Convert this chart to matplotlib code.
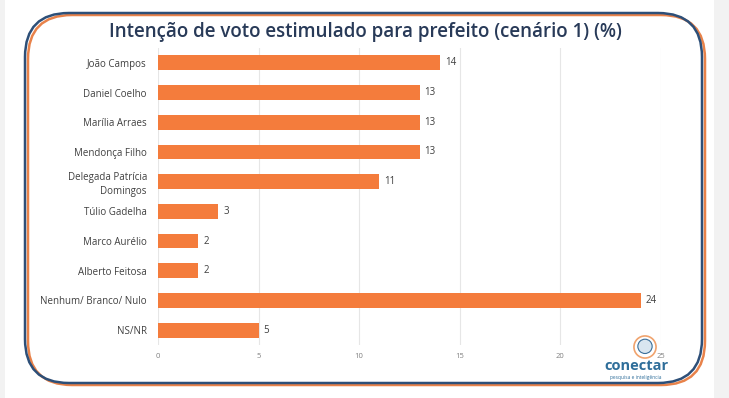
import matplotlib
matplotlib.use("Agg")
import matplotlib.pyplot as plt
from matplotlib.patches import FancyBboxPatch, Rectangle, Circle

candidates = [
    "João Campos",
    "Daniel Coelho",
    "Marília Arraes",
    "Mendonça Filho",
    "Delegada Patrícia\nDomingos",
    "Túlio Gadelha",
    "Marco Aurélio",
    "Alberto Feitosa",
    "Nenhum/ Branco/ Nulo",
    "NS/NR",
]
votes = [14, 13, 13, 13, 11, 3, 2, 2, 24, 5]
xticks = [0, 5, 10, 15, 20, 25]

BAR = "#f47c3c"
NAVY = "#283a58"
W, H = 729, 398

plt.rcParams["font.family"] = ["Open Sans", "DejaVu Sans"]

fig = plt.figure(figsize=(W / 100, H / 100), dpi=100)
fig.patch.set_facecolor("white")

# gray page edges
fig.add_artist(Rectangle((0, 0), 5 / W, 1, transform=fig.transFigure,
                         facecolor="#f2f2f2", edgecolor="none", zorder=0))
fig.add_artist(Rectangle((714 / W, 0), 15 / W, 1, transform=fig.transFigure,
                         facecolor="#f2f2f2", edgecolor="none", zorder=0))


def frame(x0, y0, x1, y1, color):
    # pixel coords, y from top
    r = 44
    p = FancyBboxPatch((x0 + r, H - y1 + r), (x1 - x0) - 2 * r, (y1 - y0) - 2 * r,
                       boxstyle=f"round,pad={r}", transform=None,
                       facecolor="none", edgecolor=color, linewidth=1.8)
    fig.add_artist(p)


frame(28, 15, 705, 385, "#e8824a")
frame(25, 13, 702, 383, "#2d4f78")

ax = fig.add_axes([158 / W, 1 - 345 / H, (661 - 158) / W, (345 - 48) / H])
y = list(range(len(candidates)))
bars = ax.barh(y, votes, height=0.5, color=BAR, zorder=3)
for b, v in zip(bars, votes):
    ax.text(b.get_width() + 0.25, b.get_y() + b.get_height() / 2, str(v),
            va="center", ha="left", fontsize=7, color="#404040")

ax.set_ylim(len(candidates) - 0.5, -0.5)
ax.set_xlim(0, 25)
ax.set_xticks(xticks)
ax.set_xticklabels([str(t) for t in xticks], fontsize=5.5, color="#808080")
ax.set_yticks(y)
ax.set_yticklabels(candidates, fontsize=7, color="#404040", linespacing=1.3)
ax.tick_params(axis="both", length=0)
ax.tick_params(axis="y", pad=8)
ax.tick_params(axis="x", pad=6)
ax.grid(axis="x", color="#e6e6e6", linewidth=0.8, zorder=0)
for s in ax.spines.values():
    s.set_visible(False)
ax.set_facecolor("none")

fig.text(365 / W, 1 - 32 / H, "Intenção de voto estimulado para prefeito (cenário 1) (%)",
         ha="center", va="center", fontsize=13.5, fontweight="semibold", color=NAVY)

# logo
ax_logo = fig.add_axes([632 / W, 1 - 360 / H, 26 / W, 26 / H])
ax_logo.set_xlim(-1, 1)
ax_logo.set_ylim(-1, 1)
ax_logo.set_aspect("equal")
ax_logo.axis("off")
ax_logo.add_patch(Circle((0, 0), 0.85, facecolor="none", edgecolor="#f0a36e", linewidth=1.2))
ax_logo.add_patch(Circle((0, 0.05), 0.55, facecolor="#d9e6f0", edgecolor="#3a6f9a", linewidth=0.8))
fig.text(636 / W, 1 - 366 / H, "conectar", ha="center", va="center",
         fontsize=10.5, fontweight="bold", color="#2f6e9a")
fig.text(636 / W, 1 - 377 / H, "pesquisa e inteligência", ha="center", va="center",
         fontsize=3.5, color="#2f6e9a")

fig.savefig("out.png", dpi=100, facecolor=fig.get_facecolor())
